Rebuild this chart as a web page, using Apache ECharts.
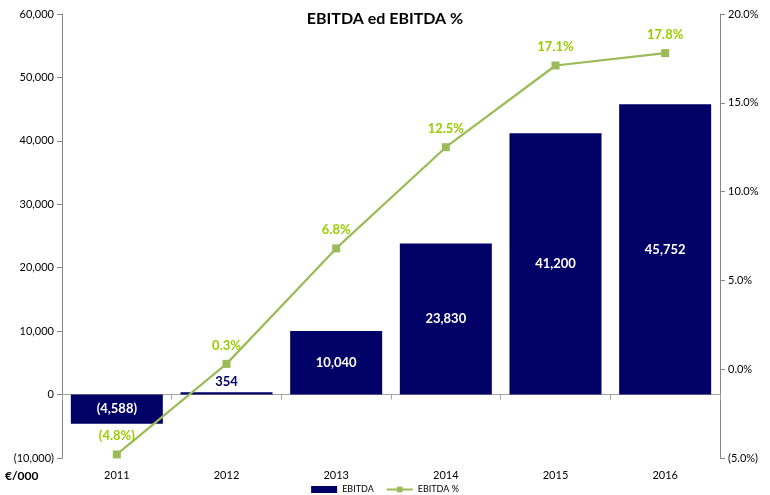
<!DOCTYPE html>
<html><head><meta charset="utf-8">
<script src="https://cdn.jsdelivr.net/npm/echarts@6/dist/echarts.min.js"></script>
<style>html,body{margin:0;padding:0;background:#fff}#c{width:770px;height:495px}</style>
</head><body><div id="c"></div>
<script>
const years = ['2011','2012','2013','2014','2015','2016'];
const ebitda = [-4588, 354, 10040, 23830, 41200, 45752];
const ebitdaPct = [-4.8, 0.3, 6.8, 12.5, 17.1, 17.8];
const F = 'Lato, "Liberation Sans", sans-serif';
function fmtNum(v){const s=Math.abs(v).toLocaleString('en-US');return v<0?'('+s+')':s;}
function fmtPct(v){const s=Math.abs(v).toFixed(1)+'%';return v<0?'('+s+')':s;}
const chart = echarts.init(document.getElementById('c'));
chart.setOption({
  animation:false,
  textStyle:{fontFamily:F},
  title:{text:'EBITDA ed EBITDA %',left:'center',top:6,textStyle:{fontFamily:F,fontSize:16,fontWeight:'bold',color:'#000'}},
  grid:{left:62,right:50,top:14,bottom:37},
  legend:{top:485,left:'center',padding:0,itemWidth:26,itemHeight:7,itemGap:12,textStyle:{fontSize:9,color:'#000',fontFamily:F},
    data:[{name:'EBITDA',icon:'rect'},{name:'EBITDA %'}]},
  xAxis:[
    {type:'category',data:years,position:'bottom',axisLine:{show:false,onZero:false},axisTick:{show:false},
     axisLabel:{fontSize:11,color:'#000',margin:12}},
    {type:'category',data:years,position:'bottom',axisLine:{onZero:true,lineStyle:{color:'#a6a6a6'}},
     axisTick:{show:true,length:5,lineStyle:{color:'#a6a6a6'}},axisLabel:{show:false}}
  ],
  yAxis:[
    {type:'value',min:-10000,max:60000,interval:10000,
     axisLine:{show:true,lineStyle:{color:'#868686'}},axisTick:{show:true,length:5,lineStyle:{color:'#868686'}},
     splitLine:{show:false},axisLabel:{fontSize:11,color:'#000',formatter:fmtNum,margin:8}},
    {type:'value',min:-5,max:20,interval:5,position:'right',
     axisLine:{show:true,lineStyle:{color:'#868686'}},axisTick:{show:true,length:5,lineStyle:{color:'#868686'}},
     splitLine:{show:false},axisLabel:{fontSize:11,color:'#000',formatter:fmtPct,margin:8}}
  ],
  graphic:[{type:'text',left:5,top:470,style:{text:'€/000',font:'bold 12px '+F,fill:'#000'}}],
  series:[
    {name:'EBITDA',type:'bar',xAxisIndex:0,yAxisIndex:0,barWidth:92,
     itemStyle:{color:'#000066'},
     label:{show:true,position:'inside',color:'#fff',fontWeight:'bold',fontSize:13,fontFamily:F,formatter:p=>fmtNum(p.value)},
     data:ebitda.map((v,i)=>i===1?{value:v,label:{position:'top',color:'#000066',distance:4}}:v)},
    {name:'EBITDA %',type:'line',xAxisIndex:0,yAxisIndex:1,
     symbol:'rect',symbolSize:8,lineStyle:{color:'#9BBB59',width:2.2},itemStyle:{color:'#9BBB59'},
     label:{show:true,position:'top',distance:8,color:'#99CC00',fontWeight:'bold',fontSize:13,fontFamily:F,formatter:p=>fmtPct(p.value)},
     data:ebitdaPct}
  ]
});
</script></body></html>
